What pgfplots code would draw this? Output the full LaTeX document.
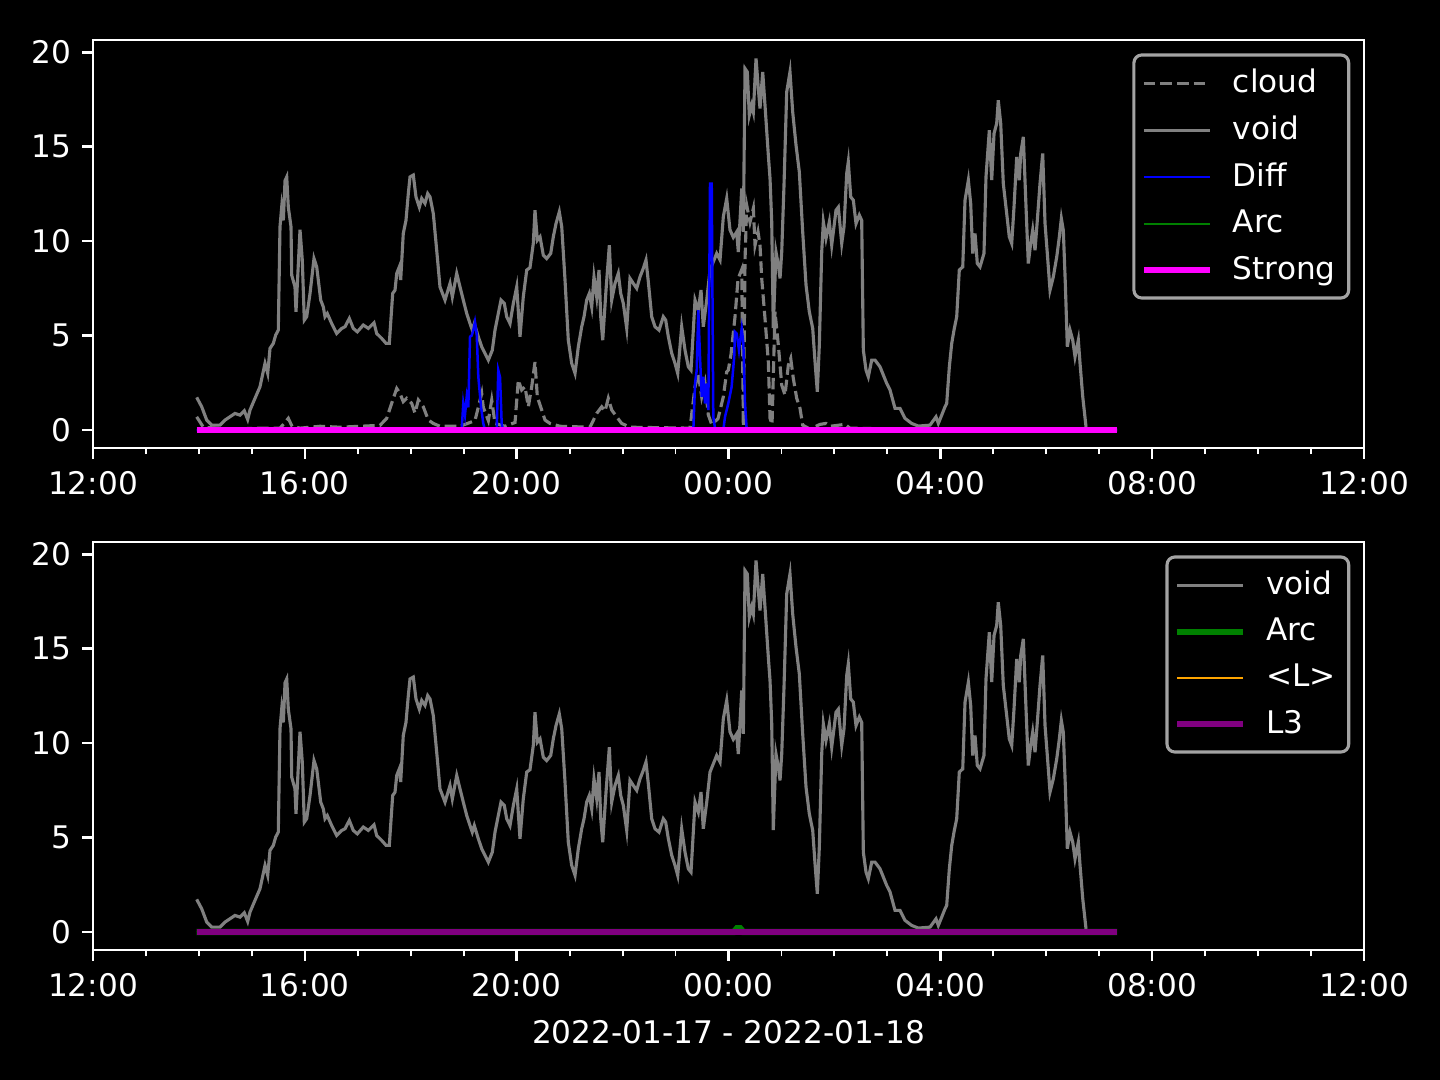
\documentclass[border=0pt]{standalone}
\usepackage{fontspec}
\setmainfont{DejaVu Sans}
\usepackage{pgfplots}
\usepackage{pgfplotstable}
\pgfplotsset{compat=1.18}

\definecolor{mgray}{HTML}{808080}
\definecolor{mgreen}{HTML}{008000}
\definecolor{mmagenta}{HTML}{FF00FF}
\definecolor{mblue}{HTML}{0000FF}
\definecolor{morange}{HTML}{FFA500}
\definecolor{mpurple}{HTML}{800080}
\definecolor{legedge}{HTML}{A3A3A3}

% hours since 12:00 on 2022-01-17
\pgfplotstableread{
h v
1.958 1.73
2.053 1.23
2.147 0.53
2.241 0.26
2.398 0.26
2.493 0.53
2.681 0.88
2.776 0.79
2.857 1.02
2.921 0.56
2.965 1.06
3.059 1.68
3.153 2.29
3.248 3.53
3.299 3.00
3.342 4.32
3.405 4.59
3.450 5.03
3.499 5.29
3.531 10.76
3.563 11.80
3.594 11.10
3.626 13.20
3.658 13.40
3.688 11.80
3.739 10.76
3.752 8.20
3.814 7.58
3.833 6.26
3.909 10.60
3.952 9.00
3.990 5.82
4.035 6.00
4.098 7.23
4.173 9.08
4.224 8.64
4.300 6.88
4.349 6.52
4.381 6.00
4.424 6.17
4.507 5.64
4.602 5.11
4.696 5.38
4.759 5.47
4.840 5.91
4.915 5.38
4.991 5.20
5.104 5.56
5.199 5.38
5.306 5.68
5.357 5.11
5.452 4.85
5.533 4.59
5.595 4.59
5.659 7.23
5.703 7.41
5.735 8.29
5.784 8.64
5.810 7.94
5.859 10.41
5.910 11.10
5.954 12.52
5.986 13.40
6.048 13.50
6.099 12.34
6.162 11.80
6.207 12.26
6.269 12.00
6.320 12.52
6.364 12.34
6.426 11.46
6.490 9.52
6.552 7.58
6.647 6.88
6.741 7.76
6.785 7.05
6.868 8.29
6.930 7.58
6.992 6.88
7.057 6.17
7.119 5.64
7.162 5.29
7.200 5.64
7.276 4.94
7.340 4.41
7.465 3.70
7.540 4.23
7.591 5.29
7.653 6.17
7.704 6.88
7.767 6.70
7.812 6.00
7.874 5.64
7.937 6.70
8.001 7.58
8.063 4.94
8.125 7.05
8.190 8.47
8.252 8.60
8.314 9.88
8.346 11.64
8.390 10.05
8.441 10.23
8.503 9.26
8.567 9.08
8.643 9.35
8.692 10.23
8.743 10.93
8.805 11.55
8.851 10.76
8.913 7.94
8.975 4.76
9.039 3.53
9.102 3.00
9.164 4.41
9.228 5.47
9.272 6.00
9.322 6.88
9.372 7.23
9.417 6.52
9.460 8.11
9.511 7.05
9.555 8.47
9.587 6.00
9.625 4.76
9.687 7.41
9.750 9.79
9.795 6.88
9.857 7.76
9.919 8.29
9.965 7.23
10.014 6.70
10.078 5.38
10.140 8.03
10.203 7.76
10.267 7.50
10.329 8.11
10.391 8.56
10.442 9.00
10.486 7.85
10.550 6.00
10.612 5.47
10.688 5.29
10.769 6.00
10.814 5.82
10.864 4.94
10.928 4.06
10.990 3.53
11.041 3.00
11.116 5.47
11.179 4.23
11.241 3.35
11.292 3.17
11.368 6.88
11.430 6.35
11.481 7.41
11.524 5.47
11.589 6.88
11.651 8.47
11.777 9.35
11.840 9.00
11.902 11.29
11.966 12.26
12.028 10.60
12.091 10.20
12.155 10.49
12.185 9.43
12.250 12.79
12.280 10.49
12.312 19.14
12.355 18.96
12.393 16.67
12.438 17.20
12.469 16.84
12.520 19.67
12.563 18.08
12.595 17.02
12.646 18.96
12.689 17.20
12.752 14.55
12.784 13.32
12.816 11.02
12.846 5.40
12.865 6.98
12.897 9.43
12.941 8.73
12.973 8.03
13.005 9.43
13.048 12.96
13.099 17.90
13.161 18.96
13.212 16.84
13.275 15.08
13.337 13.67
13.401 10.49
13.464 7.67
13.526 6.26
13.590 5.38
13.634 3.61
13.677 2.03
13.715 4.50
13.760 9.43
13.791 11.02
13.841 10.14
13.904 11.02
13.949 9.79
14.030 11.64
14.074 11.80
14.138 9.88
14.181 10.76
14.232 13.58
14.262 14.20
14.308 12.34
14.357 12.17
14.408 10.93
14.470 11.38
14.515 11.10
14.546 4.23
14.597 3.17
14.640 2.82
14.704 3.70
14.767 3.70
14.861 3.35
14.987 2.47
15.050 2.12
15.144 1.15
15.238 1.15
15.333 0.62
15.459 0.35
15.584 0.21
15.805 0.26
15.918 0.70
15.962 0.35
16.026 0.79
16.088 1.23
16.120 1.41
16.170 3.35
16.215 4.59
16.258 5.29
16.309 6.00
16.358 8.47
16.423 8.64
16.466 12.17
16.529 13.23
16.573 12.00
16.611 9.35
16.655 10.41
16.698 8.82
16.749 8.64
16.824 9.35
16.862 13.40
16.925 15.87
16.970 13.23
17.014 15.70
17.064 16.23
17.094 17.46
17.140 16.23
17.189 13.05
17.253 11.46
17.302 10.23
17.348 9.88
17.391 11.80
17.442 14.46
17.491 13.23
17.518 14.64
17.567 15.52
17.618 11.80
17.661 8.82
17.706 9.88
17.744 10.58
17.788 9.52
17.831 11.10
17.882 13.05
17.933 14.64
17.977 10.93
18.020 9.35
18.071 7.41
18.133 8.11
18.198 9.17
18.247 10.23
18.285 11.20
18.322 10.58
18.360 7.76
18.398 4.41
18.449 5.29
18.500 4.76
18.543 3.88
18.606 4.76
18.638 3.53
18.689 1.76
18.751 0.17
}\voidtab

\pgfplotstableread{
h v
1.958 0.70
2.083 0.15
2.587 0.05
3.153 0.10
3.531 0.10
3.626 0.40
3.688 0.62
3.758 0.20
3.909 0.10
4.287 0.20
4.664 0.15
5.042 0.20
5.420 0.25
5.546 0.62
5.671 1.68
5.735 2.20
5.797 1.94
5.859 1.50
5.924 1.68
6.018 1.41
6.080 0.90
6.143 1.59
6.237 1.23
6.332 0.53
6.426 0.35
6.552 0.20
6.930 0.20
7.213 0.50
7.340 1.94
7.370 1.20
7.465 0.50
7.529 1.59
7.591 0.35
7.780 0.20
7.969 0.40
8.031 2.65
8.095 2.12
8.157 2.29
8.220 1.23
8.284 2.29
8.346 3.60
8.390 1.76
8.473 1.06
8.535 0.53
8.630 0.35
8.818 0.20
9.385 0.15
9.511 0.88
9.606 1.23
9.668 1.00
9.730 1.68
9.795 1.06
9.889 0.70
9.983 0.35
10.140 0.15
11.273 0.10
11.368 2.29
11.430 3.00
11.494 1.76
11.556 2.50
11.619 0.80
11.683 0.30
11.802 0.60
11.902 1.76
11.966 3.08
11.996 3.17
12.047 4.00
12.123 6.00
12.180 8.00
12.250 8.50
12.280 0.20
12.312 9.00
12.344 11.90
12.406 11.00
12.469 11.73
12.501 9.79
12.557 10.50
12.595 9.79
12.627 8.03
12.689 5.91
12.752 3.61
12.784 0.62
12.822 0.30
12.878 6.26
12.941 4.50
13.005 2.38
13.067 1.85
13.130 3.44
13.175 3.79
13.224 2.73
13.288 1.68
13.350 1.15
13.401 0.26
13.539 0.05
13.728 0.30
13.841 0.35
13.917 0.20
14.200 0.30
14.291 0.10
15.238 0.05
15.994 0.05
19.336 0.00
}\cloudtab

\pgfplotstableread{
h v
1.958 0
6.962 0
6.992 1.41
7.024 0.80
7.057 1.76
7.087 1.20
7.119 4.94
7.151 5.00
7.181 5.29
7.213 5.73
7.245 5.11
7.276 2.82
7.327 1.23
7.370 0.35
7.402 0
7.623 0
7.653 3.17
7.686 2.80
7.717 0.35
7.742 0
11.336 0
11.368 2.47
11.400 3.17
11.430 6.35
11.462 3.88
11.494 1.76
11.524 2.82
11.556 1.41
11.589 2.47
11.619 1.06
11.651 13.05
11.683 13.05
11.713 0.70
11.745 0.10
11.902 0
11.934 0.70
11.996 1.41
12.059 2.29
12.108 3.88
12.121 5.20
12.155 5.11
12.198 4.23
12.250 5.38
12.280 4.59
12.312 1.41
12.344 0
19.336 0
}\difftab

\pgfplotsset{
  panel/.style={
    scale only axis, width=406.72bp, height=130.56bp,
    anchor=south west,
    xmin=0, xmax=24, ymin=-0.95, ymax=20.65,
    axis background/.style={fill=black},
    axis line style={white, line width=0.8bp},
    xtick={0,4,...,24},
    xticklabels={12:00,16:00,20:00,00:00,04:00,08:00,12:00},
    minor xtick={1,2,3,5,6,7,9,10,11,13,14,15,17,18,19,21,22,23},
    ytick={0,5,10,15,20},
    tick align=outside, tick pos=left,
    major tick length=3.5bp, minor tick length=2bp,
    every tick/.style={white, line width=0.8bp},
    every minor tick/.style={white, line width=0.6bp},
    tick label style={white, font=\fontsize{10}{12}\selectfont},
    xticklabel style={yshift=-0.5bp},
    /pgf/number format/assume math mode=true,
    label style={white, font=\fontsize{10}{12}\selectfont},
    xlabel style={yshift=-0.5bp},
    legend cell align=left,
    legend image code/.code={\draw[#1, line cap=butt] (0bp,0bp) -- (21bp,0bp);},
    legend style={at={(1,1)}, anchor=north east, xshift=-4.4bp, yshift=-4.3bp,
      fill=black, draw=legedge, line width=1bp, rounded corners=2.5bp,
      text=white, font=\fontsize{10}{12}\selectfont,
      inner xsep=2.2bp, inner ysep=2.5bp, row sep=2.0bp,
      /tikz/every odd column/.append style={column sep=4.5bp}},
  }
}

\begin{document}
\begin{tikzpicture}
\fill[black] (0,0) rectangle (460.8bp,345.6bp);

\begin{axis}[panel, at={(29.76bp,202.24bp)}]
\addplot[mgray, line width=1bp, dash pattern=on 3.7bp off 1.6bp] table[x=h,y=v] {\cloudtab};
\addlegendentry{cloud}
\addplot[mgray, line width=1bp] table[x=h,y=v] {\voidtab};
\addlegendentry{void}
\addplot[mblue, line width=0.8bp] table[x=h,y=v] {\difftab};
\addlegendentry{Diff}
\addplot[mgreen, line width=0.8bp] coordinates {(1.958,0) (19.336,0)};
\addlegendentry{Arc}
\addplot[mmagenta, line width=2bp] coordinates {(1.958,0) (19.336,0)};
\addlegendentry{Strong}
\end{axis}

\begin{axis}[panel, at={(29.76bp,41.6bp)}, xlabel={2022-01-17 - 2022-01-18}]
\addplot[mgray, line width=1bp] table[x=h,y=v] {\voidtab};
\addlegendentry{void}
\addplot[mgreen, line width=2bp] coordinates {(1.958,0) (12.10,0) (12.16,0.2) (12.22,0.2) (12.28,0) (19.336,0)};
\addlegendentry{Arc}
\addplot[morange, line width=0.8bp] coordinates {(1.958,0) (19.336,0)};
\addlegendentry{<L>}
\addplot[mpurple, line width=2bp] coordinates {(1.958,0) (19.336,0)};
\addlegendentry{L3}
\end{axis}

\pgfresetboundingbox
\path[use as bounding box] (0,0) rectangle (460.8bp,345.6bp);
\end{tikzpicture}
\end{document}
